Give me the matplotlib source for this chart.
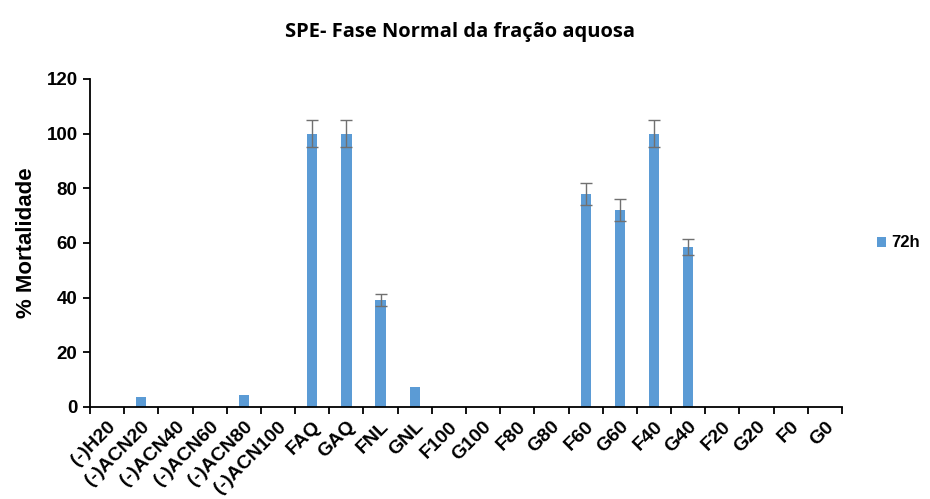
import numpy as np
import matplotlib.pyplot as plt

categories = ['(-)H20', '(-)ACN20', '(-)ACN40', '(-)ACN60', '(-)ACN80', '(-)ACN100',
              'FAQ', 'GAQ', 'FNL', 'GNL', 'F100', 'G100', 'F80', 'G80',
              'F60', 'G60', 'F40', 'G40', 'F20', 'G20', 'F0', 'G0']
mortality_72h = [0, 3.8, 0, 0, 4.3, 0, 100, 100, 39, 7.4, 0, 0, 0, 0,
                 78, 72, 100, 58.5, 0, 0, 0, 0]
errors_72h = [0, 0, 0, 0, 0, 0, 5, 5, 2.2, 0, 0, 0, 0, 0,
              4, 4, 5, 3, 0, 0, 0, 0]

plt.rcParams['font.family'] = ['Liberation Sans', 'DejaVu Sans']
plt.rcParams['font.weight'] = 'bold'

fig = plt.figure(figsize=(9.3, 4.99), dpi=100)
ax = fig.add_axes([0.0968, 0.1844, 0.8086, 0.6573])

x = np.arange(len(categories))
ax.bar(x, mortality_72h, width=0.3, color='#5B9BD5', label='72h', zorder=2)
has_err = np.array(errors_72h) > 0
ax.errorbar(x[has_err], np.array(mortality_72h)[has_err], yerr=np.array(errors_72h)[has_err],
            fmt='none', ecolor='#707070', elinewidth=1, capsize=4, capthick=1, zorder=3)

ax.set_xlim(-0.5, len(categories) - 0.5)
ax.set_ylim(0, 120)
ax.set_yticks(range(0, 121, 20))
ax.tick_params(axis='y', labelsize=13.5, width=1.3, length=5, pad=4)

# ticks between categories, labels at category centres
ax.set_xticks(np.arange(-0.5, len(categories), 1))
ax.set_xticklabels([])
ax.tick_params(axis='x', which='major', length=5, width=1.3)
ax.set_xticks(x, minor=True)
ax.set_xticklabels(categories, minor=True, rotation=45, ha='right',
                   rotation_mode='anchor', fontsize=14, fontweight='bold')
ax.tick_params(axis='x', which='minor', length=0, pad=8)

for side in ['top', 'right']:
    ax.spines[side].set_visible(False)
for side in ['left', 'bottom']:
    ax.spines[side].set_linewidth(1.3)

ax.set_ylabel('% Mortalidade', fontsize=16, fontweight='bold', labelpad=7)
fig.suptitle('SPE- Fase Normal da fração aquosa', x=0.495, y=0.955,
             fontsize=14.5, fontweight='bold', family=['Open Sans', 'DejaVu Sans'])

ax.legend(loc='center left', bbox_to_anchor=(1.027, 0.5), frameon=False,
          handlelength=0.55, handleheight=0.55, handletextpad=0.3,
          prop={'size': 12, 'weight': 'bold'})

fig.savefig('out.png', dpi=100)
